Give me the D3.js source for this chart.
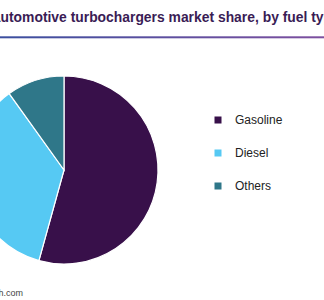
<!DOCTYPE html>
<html>
<head>
<meta charset="utf-8">
<script src="https://cdn.jsdelivr.net/npm/d3@7"></script>
<style>
  body { margin: 0; background: #fff; }
  svg { display: block; font-family: "Liberation Sans", Arial, sans-serif; }
</style>
</head>
<body>
<svg width="324" height="300"></svg>
<script>
const categories = ['Gasoline', 'Diesel', 'Others'];
const shares = [54.3, 35.8, 9.9];
const colors = ['#38104a', '#56c9f3', '#2f7789'];
const titleText = 'Global automotive turbochargers market share, by fuel type, 2016 (%)';
const sourceText = 'Source: www.grandviewresearch.com';

const svg = d3.select('svg'),
      width = +svg.attr('width'),
      height = +svg.attr('height');

// title, cropped on the left like the reference: "utomotive" starts at the
// left edge and "ty" of "type" ends at the right edge
const title = svg.append('text')
    .attr('y', 22)
    .attr('font-size', 100)
    .attr('font-weight', 'bold')
    .attr('fill', '#3a1c55')
    .text(titleText);
const iu = titleText.indexOf('utomotive'),
      ie = titleText.indexOf('type') + 2;
const span = title.node().getSubStringLength(iu, ie - iu);
const fs = 100 * (width - 0.5) / span;
title.attr('font-size', fs);
title.attr('x', 0.5 - title.node().getSubStringLength(0, iu));

const grad = svg.append('defs').append('linearGradient')
    .attr('id', 'rule')
    .attr('x1', '0%').attr('x2', '100%');
grad.append('stop').attr('offset', '0%').attr('stop-color', '#3b4f9f');
grad.append('stop').attr('offset', '100%').attr('stop-color', '#7d4f9f');

svg.append('rect')
    .attr('x', 0).attr('y', 36.3)
    .attr('width', width).attr('height', 2)
    .attr('fill', 'url(#rule)');

// pie
const radius = 94;
const pie = d3.pie().sort(null).value(d => d)(shares);
const arc = d3.arc().innerRadius(0).outerRadius(radius);
const color = d3.scaleOrdinal().domain(categories).range(colors);

svg.append('g')
    .attr('transform', 'translate(64,170)')
  .selectAll('path')
  .data(pie)
  .enter().append('path')
    .attr('d', arc)
    .attr('fill', (d, i) => color(categories[i]))
    .attr('stroke', '#fff')
    .attr('stroke-width', 1.2);

// legend
const y = d3.scalePoint().domain(categories).range([120, 186]);
const legend = svg.append('g')
  .selectAll('g')
  .data(categories)
  .enter().append('g')
    .attr('transform', d => `translate(218,${y(d)})`);

legend.append('rect')
    .attr('x', -3.5).attr('y', -3.5)
    .attr('width', 7).attr('height', 7)
    .attr('fill', d => color(d));

legend.append('text')
    .attr('x', 17)
    .attr('dy', '0.35em')
    .attr('font-size', 12)
    .attr('fill', '#222')
    .text(d => d);

// source, cropped on the left
svg.append('text')
    .attr('x', 23)
    .attr('y', 296)
    .attr('text-anchor', 'end')
    .attr('font-size', 9)
    .attr('fill', '#444')
    .text(sourceText);
</script>
</body>
</html>
